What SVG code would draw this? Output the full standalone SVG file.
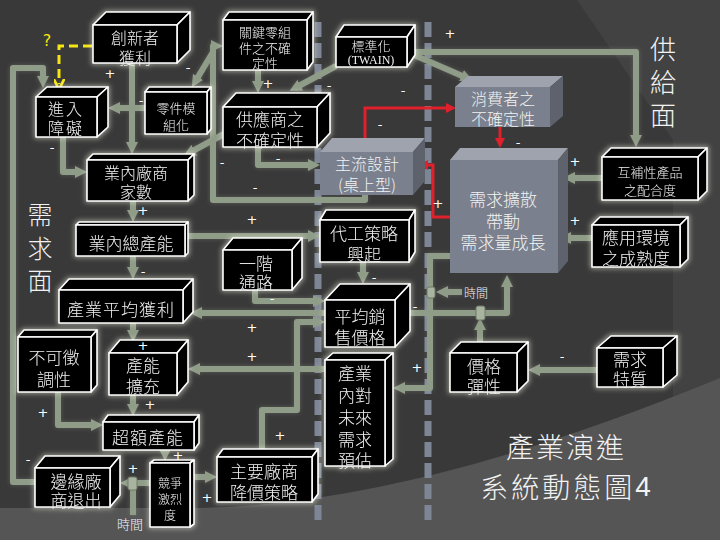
<svg xmlns="http://www.w3.org/2000/svg" width="720" height="540" viewBox="0 0 720 540">
<style>
.f{fill:#000;stroke:#fff;stroke-width:1.6;stroke-linejoin:round}
.ga{fill:#7a808d}.gb{fill:#9ea3ae}.gc{fill:#5d626d}
.t{font-family:"Noto Sans CJK TC","Noto Sans CJK SC",sans-serif;fill:#f2f2f2;text-anchor:middle;dominant-baseline:central;font-weight:300}
.s13{font-size:13px}.s16{font-size:16px}.s17{font-size:17px}.s12{font-size:12px}
.c{fill:none;stroke:#8f9c87;stroke-width:6;stroke-linejoin:round;marker-end:url(#ah)}
.r{fill:none;stroke:#e0202a;stroke-width:3;marker-end:url(#rh)}
.pm{font-family:"DejaVu Sans",sans-serif;fill:#fff;font-size:13px;text-anchor:middle;dominant-baseline:central}
.col{fill:none;stroke:#7e8696;stroke-width:7;stroke-dasharray:15 6}
.jn{fill:#a9b4a0;stroke:#6d7866;stroke-width:1}
</style>
<defs>
<marker id="ah" viewBox="0 0 12 12" markerWidth="12" markerHeight="12" refX="6" refY="6" orient="auto" markerUnits="userSpaceOnUse"><path d="M0,0 L12,6 L0,12 Z" fill="#8f9c87"/></marker>
<marker id="rh" viewBox="0 0 10 10" markerWidth="10" markerHeight="10" refX="5" refY="5" orient="auto" markerUnits="userSpaceOnUse"><path d="M0,0 L10,5 L0,10 Z" fill="#e0202a"/></marker>
<marker id="yh" viewBox="0 0 10 10" markerWidth="11" markerHeight="11" refX="5" refY="5" orient="auto" markerUnits="userSpaceOnUse"><path d="M0,0 L10,5 L0,10" fill="none" stroke="#f5e614" stroke-width="2.5"/></marker>
<filter id="ng" x="-20%" y="-20%" width="140%" height="140%"><feMorphology in="SourceAlpha" operator="dilate" radius="1" result="d"/><feGaussianBlur in="d" stdDeviation="2.5" result="b"/><feFlood flood-color="#e8ead8" flood-opacity="0.55"/><feComposite in2="b" operator="in" result="g"/><feMerge><feMergeNode in="g"/><feMergeNode in="SourceGraphic"/></feMerge></filter>
<filter id="cg" x="-10%" y="-10%" width="120%" height="120%"><feGaussianBlur in="SourceAlpha" stdDeviation="2" result="b"/><feFlood flood-color="#c4cfb8" flood-opacity="0.25"/><feComposite in2="b" operator="in" result="g"/><feMerge><feMergeNode in="g"/><feMergeNode in="SourceGraphic"/></feMerge></filter>
</defs>
<rect width="720" height="540" fill="#393939"/>
<path d="M577,0 L720,0 L720,400 L673,410 L673,140 Z" fill="#424242"/>
<path d="M0,508 L200,508 C350,505 520,460 720,378 L720,540 L0,540 Z" fill="#555"/>

<g id="columns">
<line class="col" x1="318" y1="22" x2="318" y2="520"/>
<line class="col" x1="428" y1="22" x2="428" y2="520"/>
</g>

<g id="connectors">
<g filter="url(#cg)">
<path class="c" d="M132,63 V148"/>
<path class="c" d="M145,108 H114"/>
<path class="c" d="M63,137 V172 H81"/>
<path class="c" d="M35,482 H13 V68 H43 V82"/>
<path class="c" d="M365,195 V200 H213 V46 H217"/>
<path class="c" d="M213,52 L195,82"/>
<path class="c" d="M235,128 L189,153"/>
<path class="c" d="M258,70 V87"/>
<path class="c" d="M336,66 L295,88"/>
<path class="c" d="M407,52 H636 V141"/>
<path class="c" d="M414,55 L467,78"/>
<path class="c" d="M602,178 H569"/>
<path class="c" d="M592,238 H565"/>
<path class="c" d="M133,201 V216"/>
<path class="c" d="M133,256 V273"/>
<path class="c" d="M133,323 V336"/>
<path class="c" d="M133,395 V410"/>
<path class="c" d="M165,450 V455"/>
<path class="c" d="M150,483 H126"/>
<path class="c" d="M133,515 V486" style="marker-end:none"/>
<path class="c" d="M190,477 H211"/>
<path class="c" d="M262,449 V410 H297 V322 H319"/>
<path class="c" d="M325,313 H196"/>
<path class="c" d="M325,369 H194"/>
<path class="c" d="M255,290 V301 H319"/>
<path class="c" d="M363,262 V278"/>
<path class="c" d="M185,236 H314"/>
<path class="c" d="M258,147 V165 H314"/>
<path class="c" d="M410,313 H507 V281"/>
<path class="c" d="M480,342 V324"/>
<path class="c" d="M450,256 H430 V388 H399"/>
<path class="c" d="M462,292 H442"/>
<path class="c" d="M597,370 H534"/>
<path class="c" d="M58,392 V425 H97"/>
</g>
<rect class="jn" x="476" y="306" width="9" height="14" rx="2"/>
<rect class="jn" x="427" y="287" width="8" height="11" rx="2"/>
<rect class="jn" x="128" y="477" width="9" height="13" rx="2"/>
<path class="r" d="M365,138 V108 H451"/>
<path class="r" d="M500,127 V143"/>
<path class="r" d="M450,217 H433 V165 H423"/>
<path d="M92,46 H59 V84" fill="none" stroke="#f5e614" stroke-width="3" stroke-dasharray="9 5" marker-end="url(#yh)"/>
</g>

<g id="n1" filter="url(#ng)"><polygon class="f" points="93,25 106,12 190,12 177,25"/><polygon class="f" points="177,25 190,12 190,50 177,63"/><rect class="f" x="93" y="25" width="84" height="38"/><text class="t s16" x="135" y="37">創新者</text><text class="t s16" x="135" y="57">獲利</text></g>
<g id="n2" filter="url(#ng)"><polygon class="f" points="36,97 47,87 108,87 97,97"/><polygon class="f" points="97,97 108,87 108,127 97,137"/><rect class="f" x="36" y="97" width="61" height="40"/><text class="t s16" x="66" y="108" letter-spacing="2">進入</text><text class="t s16" x="66" y="127" letter-spacing="2">障礙</text></g>
<g id="n3" filter="url(#ng)"><polygon class="f" points="145,92 149,87 211,87 207,92"/><polygon class="f" points="207,92 211,87 211,129 207,134"/><rect class="f" x="145" y="92" width="62" height="42"/><text class="t s13" x="176" y="107">零件模</text><text class="t s13" x="176" y="124">組化</text></g>
<g id="n4" filter="url(#ng)"><polygon class="f" points="223,20 229,12 313,12 307,20"/><polygon class="f" points="307,20 313,12 313,62 307,70"/><rect class="f" x="223" y="20" width="84" height="50"/><text class="t s13" x="265" y="31">關鍵零組</text><text class="t s13" x="265" y="47">件之不確</text><text class="t s13" x="265" y="62">定性</text></g>
<g id="n5" filter="url(#ng)"><polygon class="f" points="336,37 344,25 415,25 407,37"/><polygon class="f" points="407,37 415,25 415,55 407,67"/><rect class="f" x="336" y="37" width="71" height="30"/><text class="t s13" x="371" y="45">標準化</text><text class="t" x="371" y="60" style="font-family:'Liberation Serif',serif;font-size:12px">(TWAIN)</text></g>
<g id="n6" filter="url(#ng)"><polygon class="f" points="223,107 236,93 330,93 317,107"/><polygon class="f" points="317,107 330,93 330,133 317,147"/><rect class="f" x="223" y="107" width="94" height="40"/><text class="t s17" x="270" y="118">供應商之</text><text class="t s17" x="270" y="139">不確定性</text></g>
<g id="n7"><polygon class="gb" points="455,87 468,76 563,76 550,87"/><polygon class="gc" points="550,87 563,76 563,116 550,127"/><rect class="ga" x="455" y="87" width="95" height="40"/><text class="t s16" x="503" y="98">消費者之</text><text class="t s16" x="503" y="118">不確定性</text></g>
<g id="n8" filter="url(#ng)"><polygon class="f" points="87,160 93,154 194,154 188,160"/><polygon class="f" points="188,160 194,154 194,195 188,201"/><rect class="f" x="87" y="160" width="101" height="41"/><text class="t s16" x="136" y="172">業內廠商</text><text class="t s16" x="136" y="191">家數</text></g>
<g id="n9"><polygon class="gb" points="320,152 332,138 425,138 413,152"/><polygon class="gc" points="413,152 425,138 425,181 413,195"/><rect class="ga" x="320" y="152" width="93" height="43"/><text class="t s16" x="367" y="163">主流設計</text><text class="t s16" x="367" y="184">(桌上型)</text></g>
<g id="n10"><polygon class="gb" points="450,160 460,148 568,148 558,160"/><polygon class="gc" points="558,160 568,148 568,261 558,273"/><rect class="ga" x="450" y="160" width="108" height="113"/><text class="t s17" x="503" y="198">需求擴散</text><text class="t s17" x="503" y="220">帶動</text><text class="t s17" x="503" y="241">需求量成長</text></g>
<g id="n11" filter="url(#ng)"><polygon class="f" points="602,157 611,148 707,148 698,157"/><polygon class="f" points="698,157 707,148 707,191 698,200"/><rect class="f" x="602" y="157" width="96" height="43"/><text class="t s13" x="650" y="171">互補性產品</text><text class="t s13" x="650" y="189">之配合度</text></g>
<g id="n12" filter="url(#ng)"><polygon class="f" points="592,225 600,217 688,217 680,225"/><polygon class="f" points="680,225 688,217 688,259 680,267"/><rect class="f" x="592" y="225" width="88" height="42"/><text class="t s17" x="636" y="236">應用環境</text><text class="t s17" x="636" y="257">之成熟度</text></g>
<g id="n13" filter="url(#ng)"><polygon class="f" points="76,225 79,222 188,222 185,225"/><polygon class="f" points="185,225 188,222 188,253 185,256"/><rect class="f" x="76" y="225" width="109" height="31"/><text class="t s17" x="131" y="242">業內總產能</text></g>
<g id="n14" filter="url(#ng)"><polygon class="f" points="320,220 326,210 415,210 409,220"/><polygon class="f" points="409,220 415,210 415,252 409,262"/><rect class="f" x="320" y="220" width="89" height="42"/><text class="t s17" x="364" y="232">代工策略</text><text class="t s17" x="364" y="253">興起</text></g>
<g id="n15" filter="url(#ng)"><polygon class="f" points="223,250 233,238 302,238 292,250"/><polygon class="f" points="292,250 302,238 302,278 292,290"/><rect class="f" x="223" y="250" width="69" height="40"/><text class="t s17" x="256" y="262">一階</text><text class="t s17" x="256" y="281">通路</text></g>
<g id="n16" filter="url(#ng)"><polygon class="f" points="59,290 69,279 193,279 183,290"/><polygon class="f" points="183,290 193,279 193,312 183,323"/><rect class="f" x="59" y="290" width="124" height="33"/><text class="t s17" x="121" y="308" letter-spacing="1">產業平均獲利</text></g>
<g id="n17" filter="url(#ng)"><polygon class="f" points="325,300 340,284 410,284 395,300"/><polygon class="f" points="395,300 410,284 410,331 395,347"/><rect class="f" x="325" y="300" width="70" height="47"/><text class="t s17" x="360" y="315">平均銷</text><text class="t s17" x="360" y="336">售價格</text></g>
<g id="n18" filter="url(#ng)"><polygon class="f" points="18,337 24,330 97,330 91,337"/><polygon class="f" points="91,337 97,330 97,385 91,392"/><rect class="f" x="18" y="337" width="73" height="55"/><text class="t s17" x="54" y="356">不可徵</text><text class="t s17" x="54" y="378">調性</text></g>
<g id="n19" filter="url(#ng)"><polygon class="f" points="109,353 120,340 188,340 177,353"/><polygon class="f" points="177,353 188,340 188,382 177,395"/><rect class="f" x="109" y="353" width="68" height="42"/><text class="t s17" x="143" y="364">產能</text><text class="t s17" x="143" y="385">擴充</text></g>
<g id="n20" filter="url(#ng)"><polygon class="f" points="325,360 333,353 393,353 385,360"/><polygon class="f" points="385,360 393,353 393,459 385,466"/><rect class="f" x="325" y="360" width="60" height="106"/><text class="t s17" x="355" y="372">產業</text><text class="t s17" x="355" y="394">內對</text><text class="t s17" x="355" y="416">未來</text><text class="t s17" x="355" y="438">需求</text><text class="t s17" x="355" y="459">預估</text></g>
<g id="n21" filter="url(#ng)"><polygon class="f" points="450,353 461,342 528,342 517,353"/><polygon class="f" points="517,353 528,342 528,381 517,392"/><rect class="f" x="450" y="353" width="67" height="39"/><text class="t s17" x="484" y="365">價格</text><text class="t s17" x="484" y="385">彈性</text></g>
<g id="n22" filter="url(#ng)"><polygon class="f" points="597,348 611,336 677,336 663,348"/><polygon class="f" points="663,348 677,336 677,375 663,387"/><rect class="f" x="597" y="348" width="66" height="39"/><text class="t s17" x="630" y="358">需求</text><text class="t s17" x="630" y="378">特質</text></g>
<g id="n23" filter="url(#ng)"><polygon class="f" points="103,422 108,415 199,415 194,422"/><polygon class="f" points="194,422 199,415 199,443 194,450"/><rect class="f" x="103" y="422" width="91" height="28"/><text class="t s17" x="148" y="436" letter-spacing="1">超額產能</text></g>
<g id="n24" filter="url(#ng)"><polygon class="f" points="35,468 45,456 120,456 110,468"/><polygon class="f" points="110,468 120,456 120,495 110,507"/><rect class="f" x="35" y="468" width="75" height="39"/><text class="t s17" x="76" y="480">邊緣廠</text><text class="t s17" x="76" y="499">商退出</text></g>
<g id="n25" filter="url(#ng)"><polygon class="f" points="150,463 154,460 194,460 190,463"/><polygon class="f" points="190,463 194,460 194,524 190,527"/><rect class="f" x="150" y="463" width="40" height="64"/><text class="t s12" x="170" y="482">競爭</text><text class="t s12" x="170" y="498">激烈</text><text class="t s12" x="170" y="514">度</text></g>
<g id="n26" filter="url(#ng)"><polygon class="f" points="217,457 223,449 318,449 312,457"/><polygon class="f" points="312,457 318,449 318,494 312,502"/><rect class="f" x="217" y="457" width="95" height="45"/><text class="t s17" x="264" y="470">主要廠商</text><text class="t s17" x="264" y="491">降價策略</text></g>

<g id="labels">
<text class="pm" x="47" y="40" style="fill:#f5e614;font-size:16px">?</text>
<text class="pm" x="110" y="73">+</text>
<text class="pm" x="188" y="67">-</text>
<text class="pm" x="141" y="100">-</text>
<text class="pm" x="268" y="83">+</text>
<text class="pm" x="329" y="85">-</text>
<text class="pm" x="403" y="90">-</text>
<text class="pm" x="380" y="124">-</text>
<text class="pm" x="450" y="33">+</text>
<text class="pm" x="518" y="142">-</text>
<text class="pm" x="575" y="161">+</text>
<text class="pm" x="575" y="220">+</text>
<text class="pm" x="52" y="147">-</text>
<text class="pm" x="222" y="162">-</text>
<text class="pm" x="143" y="210">+</text>
<text class="pm" x="143" y="271">-</text>
<text class="pm" x="278" y="158">-</text>
<text class="pm" x="255" y="187">-</text>
<text class="pm" x="438" y="203">+</text>
<text class="pm" x="252" y="219">+</text>
<text class="pm" x="374" y="277">-</text>
<text class="pm" x="272" y="298">-</text>
<text class="pm" x="415" y="306">-</text>
<text class="pm" x="252" y="327">+</text>
<text class="pm" x="252" y="356">+</text>
<text class="pm" x="417" y="367">+</text>
<text class="pm" x="562" y="356">-</text>
<text class="pm" x="143" y="345">+</text>
<text class="pm" x="150" y="404">+</text>
<text class="pm" x="43" y="412">+</text>
<text class="pm" x="178" y="455">+</text>
<text class="pm" x="28" y="459">-</text>
<text class="pm" x="133" y="468">+</text>
<text class="pm" x="207" y="497">+</text>
<text class="pm" x="280" y="435">+</text>
<text class="t s12" x="476" y="292">時間</text>
<text class="t s13" x="130" y="523">時間</text>
<text class="t" x="40" y="213" style="font-size:25px">需</text>
<text class="t" x="40" y="247" style="font-size:25px">求</text>
<text class="t" x="40" y="279" style="font-size:25px">面</text>
<text class="t" x="663" y="47" style="font-size:26px">供</text>
<text class="t" x="663" y="80" style="font-size:26px">給</text>
<text class="t" x="663" y="113" style="font-size:26px">面</text>
<text class="t" x="566" y="446" style="font-size:28px" letter-spacing="2">產業演進</text>
<text class="t" x="567" y="486" style="font-size:28px" letter-spacing="3">系統動態圖<tspan style="font-family:'Liberation Sans',sans-serif;font-weight:400">4</tspan></text>
</g>
</svg>
